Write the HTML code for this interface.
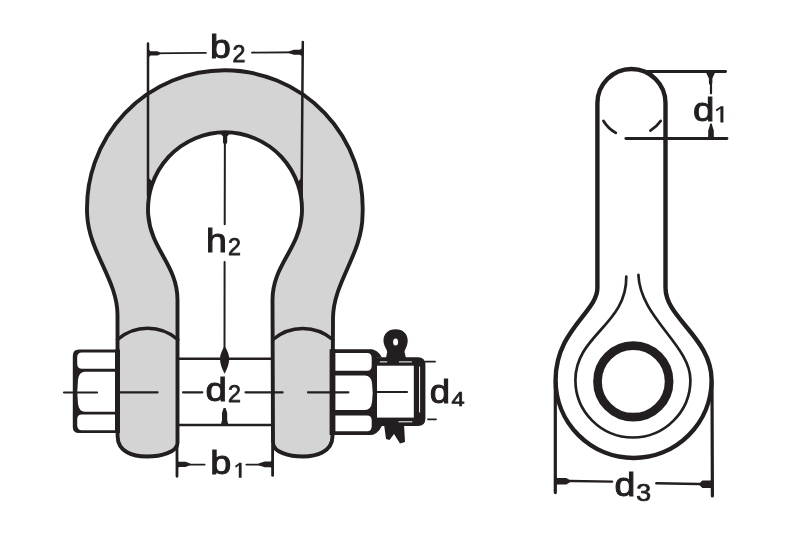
<!DOCTYPE html>
<html><head><meta charset="utf-8">
<style>
html,body{margin:0;padding:0;background:#fff;width:806px;height:537px;overflow:hidden}
svg{display:block;will-change:transform}
text{font-family:"Liberation Sans",sans-serif}
</style></head><body>
<svg width="806" height="537" viewBox="0 0 806 537">

<g id="art" fill="none" stroke="#231f20" stroke-linejoin="round" stroke-linecap="round">

<!-- ===== FRONT VIEW ===== -->
<!-- left nut frame -->
<path fill="#231f20" stroke="none" d="M120,349.6 L79,349.6 Q72.8,349.6 72.8,356 L72.8,427 Q72.8,433.1 79,433.1 L120,433.1 Z"/>
<path fill="#fff" stroke="none" d="M82,352.4 L118,352.4 L118,368.8 L82,368.8 Q77.2,368.8 77.2,363.8 L77.2,357.4 Q77.2,352.4 82,352.4 Z"/>
<path fill="#fff" stroke="none" d="M85,371.7 L118,371.7 L118,411.7 L85,411.7 Q79,411.7 78,404 Q76.6,391.7 78,379.4 Q79,371.7 85,371.7 Z"/>
<path fill="#fff" stroke="none" d="M82,414.5 L118,414.5 L118,430.3 L82,430.3 Q77.2,430.3 77.2,425.3 L77.2,419.5 Q77.2,414.5 82,414.5 Z"/>

<!-- right nut frame -->
<path fill="#231f20" stroke="none" d="M330,349.3 L370,349.3 Q376.4,349.3 376.4,356 L376.4,428.5 Q376.4,435 370,435 L330,435 Z"/>
<path fill="#fff" stroke="none" d="M334,353 L367,353 Q371.7,353 371.7,358 L371.7,365.7 Q371.7,370.7 367,370.7 L334,370.7 Z"/>
<path fill="#fff" stroke="none" d="M334,375.4 L365,375.4 Q371,375.4 372,383 Q373.4,392.6 372,402.3 Q371,409.9 365,409.9 L334,409.9 Z"/>
<path fill="#fff" stroke="none" d="M334,415.5 L367,415.5 Q371.7,415.5 371.7,420.5 L371.7,426.3 Q371.7,431.3 367,431.3 L334,431.3 Z"/>

<!-- bow silhouette -->
<path fill="#d4d4d4" stroke-width="3.9"
 d="M117.6,436 L117.5,315 C117.5,280 88.9,252 87.17,215
    A137.85,137.85 0 1 1 362.53,215
    C362.3,254 333.3,282 333,318 L332.5,436
    C332.5,452 316,456.5 303,456.5 C289,456.5 273,452 273,443
    L272.5,300 C272.5,265 299,250 301.79,215
    A77,77 0 1 0 148.21,215
    C151,250 177.5,265 177.5,300 L177.5,443
    C177.5,452 161,456.5 147,456.5 C133,456.5 117.6,452 117.6,436 Z"/>
<!-- eye edge thickening at nuts -->
<path fill="#231f20" stroke="none" d="M115,349.6 L120,349.6 L120,433.1 L115,433.1 Z M329.6,349.3 L335.4,349.3 L335.4,435 L329.6,435 Z"/>
<path fill="#231f20" stroke="none" d="M147.2,176 L152.5,182 L150.3,196 L147,196 Z M302.6,176 L298,182 L300.2,196 L302.8,196 Z"/>
<!-- eye top arcs -->
<path stroke-width="3.6" d="M117.5,339.5 A46,46 0 0 1 177.8,339.5"/>
<path stroke-width="3.6" d="M272.9,339.5 A46,46 0 0 1 332.7,339.5"/>

<!-- pin between eyes -->
<path stroke-width="2.6" d="M177.5,358.7 L272.9,358.7 M177.5,425 L272.9,425"/>

<!-- pin end block -->
<path fill="#231f20" stroke="none" d="M374.5,357.3 L418,357.3 Q425.4,357.3 425.4,365 L425.4,418.5 Q425.4,426 418,426 L374.5,426 Z"/>
<rect x="377" y="365.7" width="36.8" height="51.9" fill="#fff" stroke="none"/>
<path stroke="#fff" stroke-width="1" d="M380.2,361.9 L386.8,361.9 M399.3,361.9 L411.5,361.9 M419.6,367 L419.6,412 M398.9,421.8 L411.9,421.8"/>
<path fill="#231f20" stroke="none" d="M370,349.3 Q377.5,349.3 382,357.6 L376,357.6 Z M370,435 Q377.5,435 382,425.8 L376,425.8 Z"/>
<!-- cotter loop -->
<path fill="#231f20" stroke="none" d="M395.6,329.3 C388,329.3 383.5,334 383.5,340.5 C383.5,346 387,349 387.2,352 L386,358 L406,358 L404.5,352 C405,349 407.7,346 407.7,340.5 C407.7,334 403,329.3 395.6,329.3 Z"/>
<ellipse cx="395.6" cy="341.9" rx="2.5" ry="3.5" fill="#fff" stroke="none"/>
<!-- cotter legs -->
<path fill="#231f20" stroke="none" d="M384,424 L386,439 L389.5,440 L394,434 L400,443.5 L405,442 L404,424 Z"/>

<!-- centre line -->
<path stroke-width="2.2" d="M64,392.5 L97,392.5 M120.4,392.3 L157.6,392.3 M183,392.3 L202.3,392.3 M245.5,392.3 L282.7,392.3 M308,392.3 L330.4,392.3 M335.4,392.3 L348.4,392.3 M377,392 L407,392"/>

<path stroke-width="2.5" d="M148.00,43.50 L148.00,196.00 M302.80,42.00 L301.60,196.00"/>
<path stroke-width="1.9" d="M148.00,53.40 L205.90,52.90 M251.90,52.60 L302.80,52.20"/>
<path fill="#231f20" stroke="none" d="M148.00,48.90 L150.50,51.20 L157.50,51.20 L160.00,52.60 L160.00,54.20 L157.50,55.60 L150.50,55.60 L148.00,57.90 Z M302.80,56.40 L299.80,54.70 L293.80,54.70 L288.80,53.00 L288.80,51.40 L293.80,49.70 L299.80,49.70 L302.80,48.00 Z"/>
<path stroke-width="2" d="M224.90,133.00 L224.70,224.30 M224.60,262.00 L224.50,358.70"/>
<path fill="#231f20" stroke="none" d="M229.30,134.00 L227.20,136.50 L227.20,142.50 L225.90,144.50 L224.30,144.50 L223.00,142.50 L223.00,136.50 L220.90,134.00 Z"/>
<path fill="#231f20" stroke="none" d="M224.6,346 C227,350 229.2,354 229.2,359 C229.2,364 227,369 224.6,373.8 C222.2,369 220,364 220,359 C220,354 222.2,350 224.6,346 Z"/>
<path fill="#231f20" stroke="none" d="M220.80,425.00 L222.00,420.00 L222.00,413.00 L223.60,408.00 L225.60,408.00 L227.20,413.00 L227.20,420.00 L228.40,425.00 Z"/>
<path stroke-width="2.8" d="M177.00,446.00 L177.00,476.30 M272.60,446.00 L272.60,475.40"/>
<path stroke-width="1.6" d="M177.00,464.60 L204.80,464.60 M246.20,464.60 L272.60,464.60"/>
<path fill="#231f20" stroke="none" d="M177.00,460.70 L179.00,461.70 L185.60,461.70 L190.10,463.50 L190.10,465.10 L185.60,466.90 L179.00,466.90 L177.00,467.90 Z M272.60,468.80 L270.60,467.20 L264.60,467.20 L258.60,465.20 L258.60,463.60 L264.60,461.60 L270.60,461.60 L272.60,460.00 Z"/>
<path stroke-width="1.8" d="M425.00,361.70 L435.00,361.70 M428.00,419.30 L436.00,419.30"/>
<!-- ===== SIDE VIEW ===== -->
<path stroke-width="4.4" d="M597.4,288 L597.4,103 A34.05,34.05 0 0 1 665.5,103 L665.5,288 C665.5,318 711.6,338 711.6,380 A78,78 0 0 1 555.6,380 C555.6,330 597.4,312 597.4,288 Z"/>
<path stroke-width="2.7" d="M626.3,276.5 C627,325 575.4,335 575.4,380 A57.5,57.5 0 0 0 690.4,380 C690.4,345 640,318 638.4,274.8"/>
<circle cx="633.3" cy="381.4" r="35.8" stroke-width="8.7"/>
<!-- hidden arcs -->
<path stroke-width="2.8" d="M603.5,121 Q608,128.5 615.8,132.9 M650.4,130.6 Q656.5,127 660.6,121"/>

<path stroke-width="2.8" d="M647.00,71.50 L725.60,71.50 M625.80,138.50 L727.00,138.50"/>
<path stroke-width="2.2" d="M711.00,71.50 L711.00,93.30 M711.00,124.50 L711.00,138.50"/>
<path fill="#231f20" stroke="none" d="M715.60,71.50 L712.30,78.50 L712.30,82.50 L711.90,84.50 L709.30,84.50 L708.90,82.50 L708.90,78.50 L705.60,71.50 Z M706.80,138.50 L708.20,136.50 L708.20,130.50 L710.20,124.50 L711.80,124.50 L713.80,130.50 L713.80,136.50 L715.20,138.50 Z"/>
<path stroke-width="3.2" d="M555.30,382.00 L555.30,492.60 M712.00,382.00 L712.40,495.90"/>
<path stroke-width="2.4" d="M555.30,480.80 L612.10,481.60 M656.30,483.20 L712.40,484.20"/>
<path fill="#231f20" stroke="none" d="M555.30,476.30 L557.30,478.00 L566.30,478.00 L570.30,480.50 L570.30,482.10 L566.30,484.60 L557.30,484.60 L555.30,486.30 Z M712.40,488.70 L710.40,488.00 L702.40,488.00 L699.40,485.00 L699.40,483.40 L702.40,480.40 L710.40,480.40 L712.40,479.70 Z"/>
</g>

<!-- ===== TEXT ===== -->
<g id="txt" fill="#231f20" stroke="#231f20">
<g font-size="32.6" stroke-width="1.0">
<g transform="translate(209.9,58.4) scale(1.15,1)"><text>b</text></g>
<g transform="translate(206,251.8) scale(1.15,1)"><text>h</text></g>
<g transform="translate(205.6,401.3) scale(1.18,1)"><text>d</text></g>
<g transform="translate(210.2,474) scale(1.16,1)"><text>b</text></g>
<g transform="translate(429.7,403.1) scale(1.12,1)"><text>d</text></g>
<g transform="translate(693,121.3) scale(1.18,1)"><text>d</text></g>
<g transform="translate(614.4,495.8) scale(1.15,1)"><text>d</text></g>
</g>
<g font-size="23.2" stroke-width="0.75">
<text x="232.6" y="61.8">2</text>
<text x="228" y="254.6">2</text>
<text x="228" y="402.2">2</text>
<g transform="translate(451.5,405.6) scale(1.15,1)"><text font-size="20.5">4</text></g>
<g transform="translate(636.2,500.5) scale(1.15,1)"><text>3</text></g>
</g>
<path stroke="none" d="M238.8,462.8 L241.6,462.8 L241.6,477.7 L238.8,477.7 Z M239.5,462.8 L241.6,462.8 L236,467.8 L235,466 Z"/>
<path stroke="none" d="M720.4,106.3 L723.4,106.3 L723.4,122.5 L720.4,122.5 Z M721,106.3 L723.4,106.3 L716.6,111.6 L715.8,109.5 Z"/>
</g>
</svg>
</body></html>
